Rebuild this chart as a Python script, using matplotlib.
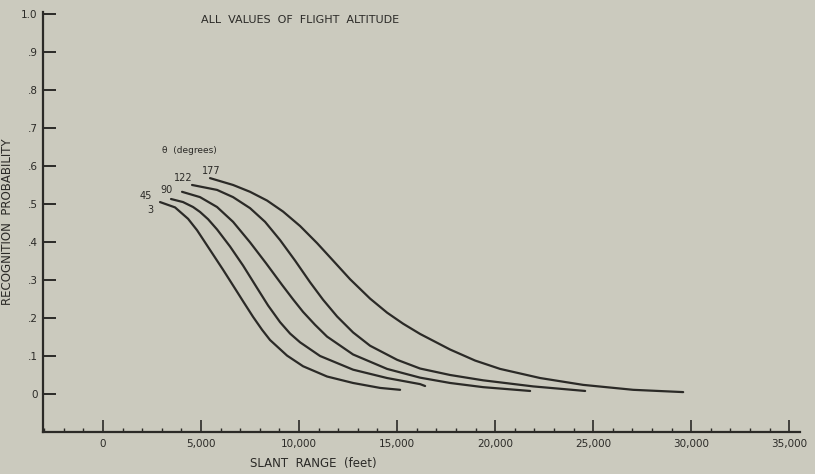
import matplotlib
matplotlib.use("Agg")
import matplotlib.pyplot as plt
from matplotlib.ticker import MultipleLocator, FixedLocator

# ---- data ----
theta_labels = ["3", "45", "90", "122", "177"]

range_3 = [2908, 3673, 4337, 4796, 5255, 5714, 6122, 6480, 6837, 7143, 7653, 8112, 8520,
           9388, 10204, 11428, 12755, 14133, 15153]
prob_3 = [0.505, 0.491, 0.461, 0.431, 0.395, 0.359, 0.327, 0.298, 0.269, 0.244, 0.203, 0.169, 0.142,
          0.101, 0.073, 0.046, 0.029, 0.016, 0.011]

range_45 = [3469, 4082, 4592, 4949, 5357, 5816, 6480, 7143, 7857, 8418, 9031, 9541, 10051,
            11071, 12755, 14490, 16173, 16428]
prob_45 = [0.513, 0.505, 0.492, 0.479, 0.460, 0.433, 0.388, 0.338, 0.279, 0.233, 0.189, 0.159, 0.136,
           0.100, 0.064, 0.042, 0.026, 0.021]

range_90 = [4031, 4949, 5816, 6633, 7500, 8316, 9133, 9694, 10204, 10816, 11428, 12755, 14490,
            16173, 17704, 19388, 21785]
prob_90 = [0.532, 0.518, 0.492, 0.453, 0.399, 0.344, 0.287, 0.249, 0.216, 0.182, 0.151, 0.104, 0.066,
           0.043, 0.029, 0.018, 0.008]

range_122 = [4541, 5816, 6633, 7500, 8265, 9031, 9796, 10561, 11224, 11939, 12755, 13622, 15000,
             16173, 17704, 19388, 21939, 24592]
prob_122 = [0.55, 0.537, 0.518, 0.489, 0.453, 0.405, 0.351, 0.294, 0.248, 0.204, 0.162, 0.127, 0.090,
            0.067, 0.050, 0.036, 0.020, 0.008]

range_177 = [5459, 6633, 7500, 8367, 9184, 10051, 10918, 11735, 12602, 13622, 14490, 15306, 16173,
             17704, 18979, 20255, 22296, 24490, 27041, 29592]
prob_177 = [0.568, 0.55, 0.532, 0.509, 0.480, 0.442, 0.397, 0.351, 0.302, 0.251, 0.214, 0.185, 0.158,
            0.117, 0.088, 0.066, 0.042, 0.024, 0.011, 0.005]

x_ticks = [0, 5000, 10000, 15000, 20000, 25000, 30000, 35000]
x_ticklabels = ["0", "5,000", "10,000", "15,000", "20,000", "25,000", "30,000", "35,000"]
y_ticks = [0, 0.1, 0.2, 0.3, 0.4, 0.5, 0.6, 0.7, 0.8, 0.9, 1.0]
y_ticklabels = ["0", ".1", ".2", ".3", ".4", ".5", ".6", ".7", ".8", ".9", "1.0"]

# label anchor points (data coords) for theta annotations
label_x = [2400, 2200, 3250, 4100, 5500]
label_y = [0.485, 0.52, 0.538, 0.568, 0.588]

BG = "#cbcabe"
INK = "#2b2a27"

fig = plt.figure(figsize=(8.15, 4.74), dpi=100, facecolor=BG)
ax = fig.add_axes([0.0528, 0.0886, 0.929, 0.886], facecolor=BG)

series = [(range_3, prob_3), (range_45, prob_45), (range_90, prob_90),
          (range_122, prob_122), (range_177, prob_177)]
for xs, ys in series:
    ax.plot(xs, ys, color=INK, lw=1.6, solid_capstyle="round", solid_joinstyle="round")

for lab, lx, ly in zip(theta_labels, label_x, label_y):
    ax.text(lx, ly, lab, fontsize=7, color=INK, ha="center", va="center")

ax.text(3000, 0.64, "θ  (degrees)", fontsize=6.5, color=INK, ha="left", va="center")

ax.set_xlim(-3060, 35560)
ax.set_ylim(-0.1, 1.005)

for s in ["top", "right"]:
    ax.spines[s].set_visible(False)
for s in ["left", "bottom"]:
    ax.spines[s].set_color(INK)
    ax.spines[s].set_linewidth(1.6)

ax.xaxis.set_major_locator(FixedLocator(x_ticks))
ax.set_xticklabels(x_ticklabels)
ax.xaxis.set_minor_locator(MultipleLocator(1000))
ax.yaxis.set_major_locator(FixedLocator(y_ticks))
ax.set_yticklabels(y_ticklabels)

ax.tick_params(axis="x", which="major", direction="in", length=9, width=1.2,
               colors=INK, labelsize=7.5, pad=5)
ax.tick_params(axis="x", which="minor", direction="in", length=3, width=1.0, colors=INK)
ax.tick_params(axis="y", which="major", direction="in", length=9, width=1.4,
               colors=INK, labelsize=7.5, pad=4)

ax.set_xlabel("SLANT  RANGE  (feet)", fontsize=8.5, color=INK)
ax.xaxis.set_label_coords((313 - 43) / (800 - 43), -0.06)
ax.set_ylabel("RECOGNITION  PROBABILITY", fontsize=8.5, color=INK)
ax.yaxis.set_label_coords(-0.038, 0.5)

fig.text(0.368, 0.958, "ALL  VALUES  OF  FLIGHT  ALTITUDE", fontsize=8, color=INK,
         ha="center", va="center")

fig.savefig("out.png", dpi=100, facecolor=BG)
